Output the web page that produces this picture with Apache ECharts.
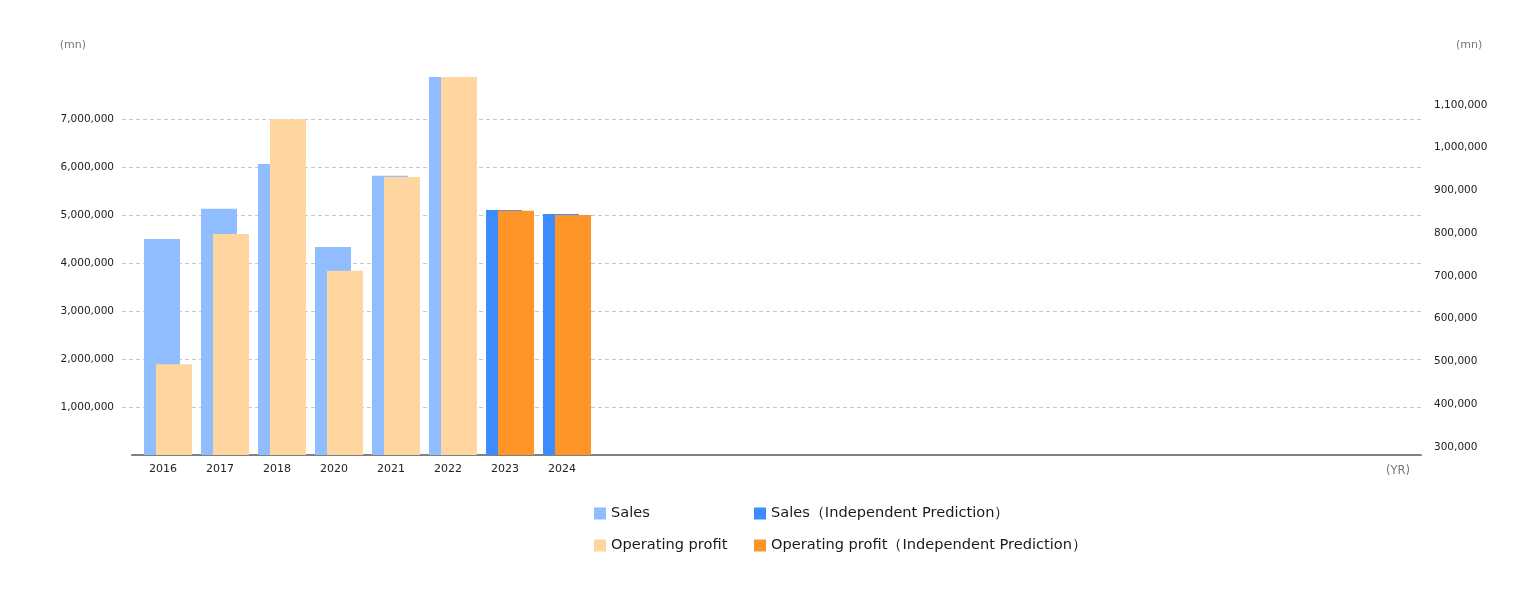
<!DOCTYPE html>
<html>
<head>
<meta charset="utf-8">
<script src="https://cdn.jsdelivr.net/npm/echarts@6/dist/echarts.min.js"></script>
<style>
html,body{margin:0;padding:0;background:#fff;}
#c{width:1540px;height:600px;}
</style>
</head>
<body>
<div id="c"></div>
<script>
// ---- data ----
const years = ['2016', '2017', '2018', '2020', '2021', '2022', '2023', '2024'];
const emptySlots = ['', '', '', '', '', '', '', '', '', '', '', '', '', ''];
const sales = [4500000, 5131000, 6062000, 4333000, 5819000, 7875000, null, null];
const salesPred = [null, null, null, null, null, null, 5104000, 5020000];
const opProfit = [493000, 798000, 1066000, 712000, 931000, 1165000, null, null];
const opProfitPred = [null, null, null, null, null, null, 852000, 842000];
const rightAxisMin = 281000;

const names = {
  sales: 'Sales',
  salesPred: 'Sales（Independent Prediction）',
  op: 'Operating profit',
  opPred: 'Operating profit（Independent Prediction）'
};

const allVals = a => a.filter(v => v != null);
const leftMax = Math.max(...allVals(sales), ...allVals(salesPred));
const rightMax = Math.max(...allVals(opProfit), ...allVals(opProfitPred));
const fmt = v => Math.round(v).toLocaleString('en-US');

const labelColor = '#222';
const nameColor = '#777';

const chart = echarts.init(document.getElementById('c'));
chart.setOption({
  animation: false,
  backgroundColor: '#fff',
  grid: [
    { left: 122, right: 119, top: 77, bottom: 145 },
    { left: 139.5, width: 1254, top: 77, bottom: 145 },
    { left: 132, right: 119, top: 77, bottom: 145 }
  ],
  legend: [
    {
      orient: 'vertical', left: 589, top: 501, itemGap: 17,
      icon: 'rect', itemWidth: 12, itemHeight: 12,
      textStyle: { fontSize: 14.6, color: '#1a1a1a', fontFamily: 'DejaVu Sans' },
      data: [names.sales, names.op]
    },
    {
      orient: 'vertical', left: 749, top: 501, itemGap: 17,
      icon: 'rect', itemWidth: 12, itemHeight: 12,
      textStyle: { fontSize: 14.6, color: '#1a1a1a', fontFamily: 'DejaVu Sans' },
      data: [names.salesPred, names.opPred]
    }
  ],
  xAxis: [
    { gridIndex: 0, type: 'category', data: years, show: false },
    {
      gridIndex: 1, type: 'category', data: years.concat(emptySlots),
      axisLine: { show: false }, axisTick: { show: false },
      axisLabel: { interval: 0, fontSize: 11, color: labelColor, margin: 9,
        padding: [0, 10, 0, 0], fontFamily: 'DejaVu Sans' }
    },
    {
      gridIndex: 2, type: 'category', data: [''],
      axisLine: { show: true, lineStyle: { color: '#808080', width: 2 } },
      axisTick: { show: false }, axisLabel: { show: false },
      name: '(YR)', nameLocation: 'end', nameGap: 0,
      nameTextStyle: { align: 'right', verticalAlign: 'top', padding: [10, 11, 0, 0],
        color: nameColor, fontSize: 11.5, fontFamily: 'DejaVu Sans' }
    }
  ],
  yAxis: [
    {
      gridIndex: 0, type: 'value', min: 0, max: leftMax, interval: 1000000,
      axisLine: { show: false }, axisTick: { show: false },
      axisLabel: { showMinLabel: false, showMaxLabel: false, margin: 8, fontSize: 10.5,
        color: labelColor, formatter: fmt, fontFamily: 'DejaVu Sans' },
      splitLine: { show: true, showMinLine: false, showMaxLine: false,
        lineStyle: { type: [4, 3], color: '#c8c8c8', width: 1 } },
      name: '(mn)', nameLocation: 'end', nameGap: 26,
      nameTextStyle: { align: 'right', padding: [0, 36, 0, 0], color: nameColor,
        fontSize: 11, fontFamily: 'DejaVu Sans' }
    },
    {
      gridIndex: 0, type: 'value', position: 'right', min: rightAxisMin, max: rightMax,
      splitNumber: 9,
      axisLine: { show: false }, axisTick: { show: false },
      axisLabel: { showMinLabel: false, showMaxLabel: false, margin: 13, fontSize: 10.5,
        color: labelColor, formatter: fmt, fontFamily: 'DejaVu Sans' },
      splitLine: { show: false },
      name: '(mn)', nameLocation: 'end', nameGap: 26,
      nameTextStyle: { align: 'left', padding: [0, 0, 0, 35], color: nameColor,
        fontSize: 11, fontFamily: 'DejaVu Sans' }
    },
    { gridIndex: 1, type: 'value', min: 0, max: leftMax, show: false },
    { gridIndex: 1, type: 'value', min: rightAxisMin, max: rightMax, show: false },
    { gridIndex: 2, type: 'value', min: 0, max: 1, show: false }
  ],
  series: [
    { name: names.sales, type: 'bar', xAxisIndex: 1, yAxisIndex: 2, stack: 'sales',
      barWidth: 36, barGap: '-66.67%', data: sales, itemStyle: { color: '#8FBDFF' } },
    { name: names.salesPred, type: 'bar', xAxisIndex: 1, yAxisIndex: 2, stack: 'sales',
      barWidth: 36, barGap: '-66.67%', data: salesPred, itemStyle: { color: '#3C8CFF' } },
    { name: names.op, type: 'bar', xAxisIndex: 1, yAxisIndex: 3, stack: 'op',
      barWidth: 36, barGap: '-66.67%', data: opProfit, itemStyle: { color: '#FFD6A0' } },
    { name: names.opPred, type: 'bar', xAxisIndex: 1, yAxisIndex: 3, stack: 'op',
      barWidth: 36, barGap: '-66.67%', data: opProfitPred, itemStyle: { color: '#FF9429' } }
  ]
});
</script>
</body>
</html>
